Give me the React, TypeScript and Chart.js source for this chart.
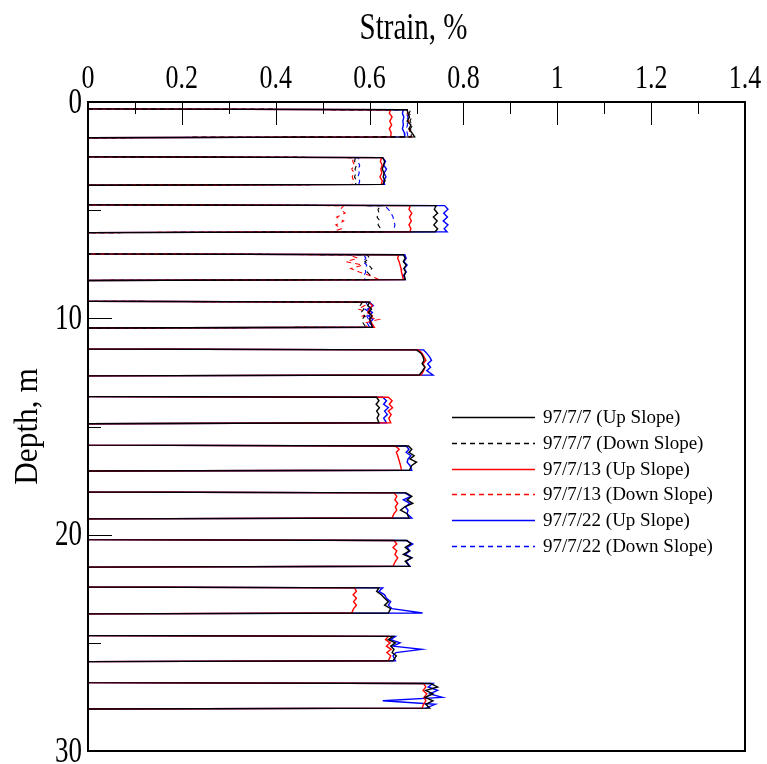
import React, { useEffect, useRef } from 'react';
import { Chart, registerables } from 'chart.js';

Chart.register(...registerables);

// ---------- Axis ticks ----------
const STRAIN_TICKS = [0, 0.2, 0.4, 0.6, 0.8, 1, 1.2, 1.4];
const STRAIN_TICK_LABELS = ['0', '0.2', '0.4', '0.6', '0.8', '1', '1.2', '1.4'];
const STRAIN_MINOR_TICKS = [0.1, 0.3, 0.5, 0.7, 0.9, 1.1, 1.3];
const DEPTH_TICKS = [0, 10, 20, 30];
const DEPTH_TICK_LABELS = ['0', '10', '20', '30'];
const DEPTH_MINOR_TICKS = [5, 15, 25];
const X_TITLE = 'Strain, %';
const Y_TITLE = 'Depth, m';

// ---------- Depth samples (m) of each gauge block: top, 8 readings, bottom ----------
const BLOCK_DEPTHS: number[][] = [
  [0.32, 0.36, 0.52, 0.70, 0.88, 1.06, 1.24, 1.42, 1.61, 1.65],
  [2.53, 2.57, 2.74, 2.92, 3.10, 3.28, 3.46, 3.64, 3.81, 3.85],
  [4.75, 4.79, 4.96, 5.14, 5.32, 5.50, 5.68, 5.86, 6.00, 6.04],
  [7.02, 7.06, 7.22, 7.38, 7.54, 7.70, 7.86, 8.02, 8.21, 8.25],
  [9.21, 9.25, 9.41, 9.57, 9.73, 9.89, 10.05, 10.21, 10.41, 10.45],
  [11.42, 11.46, 11.62, 11.78, 11.94, 12.10, 12.26, 12.42, 12.62, 12.66],
  [13.61, 13.65, 13.81, 13.97, 14.13, 14.29, 14.45, 14.61, 14.83, 14.87],
  [15.86, 15.90, 16.05, 16.20, 16.35, 16.50, 16.65, 16.80, 17.02, 17.06],
  [18.03, 18.07, 18.23, 18.39, 18.55, 18.71, 18.87, 19.03, 19.23, 19.27],
  [20.23, 20.27, 20.43, 20.59, 20.75, 20.91, 21.07, 21.23, 21.46, 21.50],
  [22.42, 22.46, 22.62, 22.78, 22.94, 23.10, 23.26, 23.42, 23.62, 23.66],
  [24.66, 24.70, 24.85, 25.00, 25.15, 25.30, 25.45, 25.60, 25.83, 25.87],
  [26.84, 26.88, 27.04, 27.20, 27.36, 27.52, 27.68, 27.84, 28.02, 28.06],
];

// ---------- Strain (%) readings, 8 per block ----------
const UP_0707: number[][] = [
  [0.680, 0.682, 0.685, 0.680, 0.688, 0.684, 0.690, 0.696],
  [0.628, 0.632, 0.630, 0.627, 0.631, 0.629, 0.633, 0.628],
  [0.742, 0.738, 0.745, 0.736, 0.744, 0.737, 0.745, 0.740],
  [0.672, 0.676, 0.672, 0.678, 0.673, 0.677, 0.674, 0.676],
  [0.600, 0.596, 0.604, 0.598, 0.605, 0.600, 0.603, 0.606],
  [0.700, 0.710, 0.714, 0.716, 0.712, 0.718, 0.713, 0.706],
  [0.615, 0.620, 0.614, 0.621, 0.615, 0.620, 0.616, 0.620],
  [0.683, 0.690, 0.684, 0.695, 0.686, 0.700, 0.690, 0.685],
  [0.678, 0.690, 0.680, 0.692, 0.675, 0.666, 0.680, 0.684],
  [0.680, 0.688, 0.676, 0.685, 0.672, 0.690, 0.676, 0.685],
  [0.620, 0.615, 0.625, 0.632, 0.640, 0.632, 0.645, 0.640],
  [0.650, 0.640, 0.655, 0.645, 0.652, 0.648, 0.657, 0.650],
  [0.730, 0.745, 0.720, 0.735, 0.718, 0.735, 0.720, 0.728],
];

const DOWN_0707: number[][] = [
  [0.688, 0.684, 0.690, 0.686, 0.692, 0.687, 0.690, 0.688],
  [0.570, 0.568, 0.572, 0.569, 0.571, 0.568, 0.572, 0.570],
  [0.625, 0.618, 0.620, 0.616, 0.622, 0.618, 0.624, 0.628],
  [0.595, 0.600, 0.590, 0.598, 0.605, 0.595, 0.602, 0.598],
  [0.585, 0.580, 0.588, 0.582, 0.590, 0.584, 0.586, 0.592],
  [0, 0, 0, 0, 0, 0, 0, 0],
  [0, 0, 0, 0, 0, 0, 0, 0],
  [0, 0, 0, 0, 0, 0, 0, 0],
  [0, 0, 0, 0, 0, 0, 0, 0],
  [0, 0, 0, 0, 0, 0, 0, 0],
  [0, 0, 0, 0, 0, 0, 0, 0],
  [0, 0, 0, 0, 0, 0, 0, 0],
  [0, 0, 0, 0, 0, 0, 0, 0],
];

const UP_0713: number[][] = [
  [0.645, 0.642, 0.648, 0.643, 0.647, 0.642, 0.646, 0.645],
  [0.626, 0.623, 0.627, 0.624, 0.626, 0.622, 0.627, 0.625],
  [0.687, 0.684, 0.690, 0.685, 0.689, 0.684, 0.688, 0.686],
  [0.662, 0.660, 0.663, 0.665, 0.667, 0.668, 0.670, 0.672],
  [0.598, 0.606, 0.600, 0.597, 0.606, 0.600, 0.604, 0.610],
  [0.705, 0.712, 0.716, 0.720, 0.714, 0.718, 0.715, 0.710],
  [0.640, 0.648, 0.642, 0.649, 0.640, 0.646, 0.641, 0.645],
  [0.655, 0.663, 0.657, 0.660, 0.662, 0.664, 0.666, 0.668],
  [0.652, 0.658, 0.654, 0.660, 0.655, 0.658, 0.652, 0.648],
  [0.652, 0.658, 0.650, 0.658, 0.654, 0.660, 0.655, 0.650],
  [0.568, 0.572, 0.565, 0.572, 0.566, 0.572, 0.566, 0.562],
  [0.640, 0.634, 0.644, 0.636, 0.646, 0.637, 0.645, 0.640],
  [0.715, 0.720, 0.714, 0.722, 0.716, 0.720, 0.715, 0.712],
];

const DOWN_0713: number[][] = [
  [0.685, 0.680, 0.686, 0.682, 0.688, 0.684, 0.686, 0.690],
  [0.566, 0.564, 0.568, 0.562, 0.567, 0.563, 0.566, 0.565],
  [0.545, 0.538, 0.548, 0.530, 0.545, 0.528, 0.540, 0.520],
  [0.555, 0.575, 0.550, 0.585, 0.560, 0.578, 0.600, 0.620],
  [0.578, 0.590, 0.575, 0.600, 0.585, 0.620, 0.590, 0.595],
  [0, 0, 0, 0, 0, 0, 0, 0],
  [0, 0, 0, 0, 0, 0, 0, 0],
  [0, 0, 0, 0, 0, 0, 0, 0],
  [0, 0, 0, 0, 0, 0, 0, 0],
  [0, 0, 0, 0, 0, 0, 0, 0],
  [0, 0, 0, 0, 0, 0, 0, 0],
  [0, 0, 0, 0, 0, 0, 0, 0],
  [0, 0, 0, 0, 0, 0, 0, 0],
];

const UP_0722: number[][] = [
  [0.672, 0.670, 0.673, 0.671, 0.672, 0.670, 0.674, 0.675],
  [0.628, 0.634, 0.630, 0.636, 0.631, 0.635, 0.630, 0.632],
  [0.760, 0.767, 0.758, 0.766, 0.757, 0.767, 0.759, 0.765],
  [0.675, 0.678, 0.673, 0.680, 0.674, 0.678, 0.672, 0.676],
  [0.600, 0.608, 0.596, 0.606, 0.598, 0.607, 0.600, 0.608],
  [0.715, 0.722, 0.728, 0.732, 0.724, 0.730, 0.722, 0.735],
  [0.628, 0.636, 0.630, 0.640, 0.632, 0.638, 0.630, 0.636],
  [0.678, 0.684, 0.678, 0.688, 0.682, 0.680, 0.686, 0.690],
  [0.675, 0.688, 0.672, 0.686, 0.676, 0.682, 0.680, 0.690],
  [0.678, 0.692, 0.680, 0.686, 0.676, 0.690, 0.678, 0.686],
  [0.628, 0.620, 0.632, 0.636, 0.645, 0.640, 0.648, 0.713],
  [0.655, 0.645, 0.665, 0.650, 0.711, 0.656, 0.650, 0.655],
  [0.735, 0.725, 0.745, 0.728, 0.755, 0.628, 0.740, 0.720],
];

const DOWN_0722: number[][] = [
  [0.680, 0.678, 0.682, 0.679, 0.681, 0.678, 0.680, 0.682],
  [0.577, 0.575, 0.579, 0.576, 0.578, 0.575, 0.579, 0.577],
  [0.632, 0.640, 0.646, 0.650, 0.652, 0.654, 0.652, 0.648],
  [0.588, 0.592, 0.586, 0.594, 0.590, 0.592, 0.588, 0.590],
  [0.592, 0.596, 0.590, 0.600, 0.594, 0.598, 0.595, 0.600],
  [0, 0, 0, 0, 0, 0, 0, 0],
  [0, 0, 0, 0, 0, 0, 0, 0],
  [0, 0, 0, 0, 0, 0, 0, 0],
  [0, 0, 0, 0, 0, 0, 0, 0],
  [0, 0, 0, 0, 0, 0, 0, 0],
  [0, 0, 0, 0, 0, 0, 0, 0],
  [0, 0, 0, 0, 0, 0, 0, 0],
  [0, 0, 0, 0, 0, 0, 0, 0],
];

const SERIES_LABELS = [
  '97/7/7 (Up Slope)',
  '97/7/7 (Down Slope)',
  '97/7/13 (Up Slope)',
  '97/7/13 (Down Slope)',
  '97/7/22 (Up Slope)',
  '97/7/22 (Down Slope)',
];
const SERIES_VALUES = [UP_0707, DOWN_0707, UP_0713, DOWN_0713, UP_0722, DOWN_0722];
const SERIES_COLORS = ['#000000', '#000000', '#ff0000', '#ff0000', '#0000ff', '#0000ff'];
const SERIES_DASHED = [false, true, false, true, false, true];

const FONT = "'Liberation Serif', 'Times New Roman', serif";
const STRETCH = 1.3; // the original axis lettering is vertically elongated

function buildPoints(rows: number[][]) {
  const pts: { x: number; y: number }[] = [];
  BLOCK_DEPTHS.forEach((d, b) => {
    pts.push({ x: 0, y: d[0] });
    rows[b].forEach((s, i) => pts.push({ x: s, y: d[i + 1] }));
    pts.push({ x: 0, y: d[d.length - 1] });
  });
  return pts;
}

function stretchedText(ctx: CanvasRenderingContext2D, text: string, x: number, yCenter: number, size: number, align: CanvasTextAlign) {
  ctx.save();
  ctx.font = `${size}px ${FONT}`;
  ctx.textAlign = align;
  ctx.textBaseline = 'alphabetic';
  ctx.translate(x, yCenter + 0.335 * size * STRETCH);
  ctx.scale(1, STRETCH);
  ctx.fillText(text, 0, 0);
  ctx.restore();
}

const framePlugin = {
  id: 'frameTicksLegend',
  afterDraw(chart: any) {
    const { ctx, chartArea } = chart;
    const xs = chart.scales.x;
    const ys = chart.scales.y;
    ctx.save();
    ctx.fillStyle = '#000';
    // inward ticks
    ctx.strokeStyle = '#000';
    ctx.lineWidth = 1;
    ctx.setLineDash([]);
    const tick = (x1: number, y1: number, x2: number, y2: number) => {
      ctx.beginPath();
      ctx.moveTo(x1, y1);
      ctx.lineTo(x2, y2);
      ctx.stroke();
    };
    STRAIN_TICKS.forEach((v) => {
      const px = Math.round(xs.getPixelForValue(v)) + 0.5;
      tick(px, chartArea.top, px, chartArea.top + 23);
    });
    STRAIN_MINOR_TICKS.forEach((v) => {
      const px = Math.round(xs.getPixelForValue(v)) + 0.5;
      tick(px, chartArea.top, px, chartArea.top + 12);
    });
    DEPTH_TICKS.forEach((v) => {
      const py = Math.round(ys.getPixelForValue(v)) + 0.5;
      tick(chartArea.left, py, chartArea.left + 24, py);
    });
    DEPTH_MINOR_TICKS.forEach((v) => {
      const py = Math.round(ys.getPixelForValue(v)) + 0.5;
      tick(chartArea.left, py, chartArea.left + 13, py);
    });
    // frame
    ctx.lineWidth = 2;
    ctx.strokeRect(chartArea.left, chartArea.top, chartArea.right - chartArea.left, chartArea.bottom - chartArea.top);

    // tick labels (positioned from the scales)
    STRAIN_TICKS.forEach((v, i) => {
      stretchedText(ctx, STRAIN_TICK_LABELS[i], xs.getPixelForValue(v), chartArea.top - 25, 26, 'center');
    });
    DEPTH_TICKS.forEach((v, i) => {
      stretchedText(ctx, DEPTH_TICK_LABELS[i], chartArea.left - 6, ys.getPixelForValue(v) - 1, 27, 'right');
    });
    // axis titles
    stretchedText(ctx, X_TITLE, (chartArea.left + chartArea.right) / 2 - 3, 26, 29, 'center');
    ctx.save();
    ctx.font = `29px ${FONT}`;
    ctx.textAlign = 'center';
    ctx.textBaseline = 'middle';
    ctx.translate(28, (chartArea.top + chartArea.bottom) / 2);
    ctx.rotate(-Math.PI / 2);
    ctx.scale(1.08, 1.15);
    ctx.fillText(Y_TITLE, 0, 0);
    ctx.restore();

    // legend
    const lx1 = 452;
    const lx2 = 535;
    const tx = 543;
    const y0 = 417;
    const dy = 25.8;
    ctx.font = `19px ${FONT}`;
    ctx.textBaseline = 'middle';
    ctx.textAlign = 'left';
    chart.data.datasets.forEach((ds: any, i: number) => {
      const y = Math.round(y0 + i * dy) + 0.5;
      ctx.strokeStyle = SERIES_COLORS[i];
      ctx.lineWidth = 1.3;
      ctx.setLineDash(SERIES_DASHED[i] ? [5, 4] : []);
      ctx.beginPath();
      ctx.moveTo(lx1, y);
      ctx.lineTo(lx2, y);
      ctx.stroke();
      ctx.setLineDash([]);
      ctx.fillStyle = '#000';
      ctx.fillText(ds.label, tx, y + 1);
    });
    ctx.restore();
  },
};

export default function App() {
  const canvasRef = useRef<HTMLCanvasElement | null>(null);

  useEffect(() => {
    if (!canvasRef.current) return;
    const datasets = SERIES_VALUES.map((rows, i) => ({
      label: SERIES_LABELS[i],
      data: buildPoints(rows),
      showLine: true,
      borderColor: SERIES_COLORS[i],
      backgroundColor: SERIES_COLORS[i],
      borderWidth: SERIES_DASHED[i] ? 1.1 : 1.4,
      borderDash: SERIES_DASHED[i] ? [5, 4] : [],
      pointRadius: 0,
      pointHoverRadius: 0,
      fill: false,
      tension: 0,
    }));

    const chart = new Chart(canvasRef.current, {
      type: 'scatter',
      data: { datasets },
      options: {
        animation: false,
        responsive: false,
        maintainAspectRatio: false,
        layout: { padding: { left: 0, top: 0, right: 22, bottom: 13 } },
        plugins: {
          legend: { display: false },
          tooltip: { enabled: false },
        },
        scales: {
          x: {
            type: 'linear',
            position: 'top',
            min: 0,
            max: 1.4,
            afterBuildTicks: (scale: any) => {
              scale.ticks = STRAIN_TICKS.map((v) => ({ value: v }));
            },
            afterFit: (scale: any) => {
              scale.height = 102;
              scale.paddingLeft = 0;
              scale.paddingRight = 0;
            },
            grid: { display: false, drawTicks: false },
            border: { display: false },
            ticks: { display: false },
            title: { display: false, text: X_TITLE },
          },
          y: {
            type: 'linear',
            reverse: true,
            min: 0,
            max: 30,
            afterBuildTicks: (scale: any) => {
              scale.ticks = DEPTH_TICKS.map((v) => ({ value: v }));
            },
            afterFit: (scale: any) => {
              scale.width = 88;
              scale.paddingTop = 0;
              scale.paddingBottom = 0;
            },
            grid: { display: false, drawTicks: false },
            border: { display: false },
            ticks: { display: false },
            title: { display: false, text: Y_TITLE },
          },
        },
      },
      plugins: [framePlugin],
    } as any);

    return () => chart.destroy();
  }, []);

  return (
    <div style={{ position: 'fixed', left: 0, top: 0, width: 767, height: 764, background: '#fff' }}>
      <canvas ref={canvasRef} width={767} height={764} style={{ display: 'block', width: 767, height: 764 }} />
    </div>
  );
}
